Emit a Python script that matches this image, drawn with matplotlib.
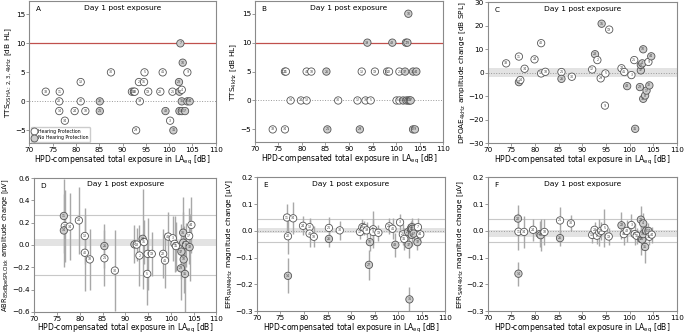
import matplotlib
matplotlib.use("Agg")
import matplotlib.pyplot as plt
from matplotlib.lines import Line2D

# ---------------- data ----------------
xticks = [70, 75, 80, 85, 90, 95, 100, 105, 110]
title_txt = "Day 1 post exposure"
xlabel_txt = "HPD-compensated total exposure in LA$_{\\mathrm{eq}}$ [dB]"

# Panel A: TTS OSHA
xA = [73.5, 76.5, 76.4, 76.4, 77.6, 79.7, 81.0, 81.0, 82.0, 85.1, 85.1, 87.5, 92.0, 92.4, 92.6,
      92.9, 93.5, 93.7, 94.7, 94.6, 95.5, 98.1, 98.6, 99.2, 100.2, 100.7, 100.9, 102.1, 102.4,
      102.2, 102.2, 102.7, 102.9, 102.7, 102.7, 103.4, 103.9, 103.9, 104.4]
yA = [1.67, 1.67, 0, -1.67, -3.33, -1.67, 3.33, 0, -1.67, 0, -1.67, 5, 1.67, 1.67, 1.67,
      -5, 3.33, 0, 5, 3.33, 1.67, 1.67, 5, -1.67, -3.33, 1.67, -5, 3.33, 10,
      1.67, -1.67, 2.0, 6.67, 0, -1.67, -1.67, 5, 0, 0]
idA = [33, 11, 20, 14, 34, 24, 13, 40, 18, 26, 21, 30, 12, 38, 28,
       29, 2, 39, 5, 16, 19, 22, 41, 43, 3, 25, 31, 23, 7,
       37, 36, 4, 10, 35, 8, 17, 9, 32, 44]
nhA = [0, 0, 0, 0, 0, 0, 0, 0, 0, 1, 1, 0, 0, 1, 0,
       0, 0, 0, 0, 0, 0, 0, 0, 1, 0, 0, 1, 1, 1,
       1, 1, 0, 1, 1, 1, 1, 0, 1, 1]

# Panel B: TTS 4 kHz
xB = [102.6, 93.9, 99.2, 102.1, 102.4,
      76.4, 76.6, 81.0, 82.0, 85.2, 92.7, 95.5, 98.1, 98.5, 100.7, 101.9, 103.6, 104.3,
      77.6, 79.8, 81.0, 87.7, 91.8, 93.5, 94.6, 100.1, 100.7, 101.5, 102.2, 102.6, 102.9, 103.1,
      73.8, 76.4, 85.4, 92.3, 103.6, 104.0]
yB = [15, 10, 10, 10, 10,
      5, 5, 5, 5, 5, 5, 5, 5, 5, 5, 5, 5, 5,
      0, 0, 0, 0, 0, 0, 0, 0, 0, 0, 0, 0, 0, 0,
      -5, -5, -5, -5, -5, -5]
idB = [10, 39, 43, 7, 23,
       20, 11, 40, 18, 26, 13, 19, 16, 22, 25, 37, 35, 44,
       14, 24, 13, 30, 12, 38, 5, 3, 41, 31, 36, 4, 8, 17,
       33, 34, 21, 29, 32, 9]
nhB = [1, 1, 1, 1, 1,
       0, 0, 0, 0, 1, 0, 0, 0, 0, 0, 1, 1, 1,
       0, 0, 0, 0, 0, 0, 0, 0, 0, 1, 1, 1, 1, 1,
       0, 0, 1, 1, 1, 1]

# Panel C: DPOAE 4 kHz
xC = [73.9, 76.6, 76.6, 76.9, 77.8, 79.9, 81.3, 81.3, 82.2, 85.6, 85.6, 87.8, 92.1, 92.7, 93.2,
      93.9, 94.1, 94.9, 94.8, 95.7, 98.3, 98.9, 99.5, 100.4, 101.0, 101.2, 102.2, 102.4, 102.4,
      102.7, 102.9, 102.9, 103.3, 103.6, 104.0, 104.2, 104.6]
yC = [4.0, 6.9, -4.0, -3.1, 1.7, 5.7, 12.6, -0.3, 0.4, 0.3, -2.6, -1.7, 1.4, 7.9, 5.4,
      -2.4, 20.9, -0.3, -14.0, 18.4, 1.9, 0.3, -5.7, -1.0, 5.4, -23.9, -6.1, 1.0, 3.3,
      4.0, 10.0, -11.1, -9.7, -7.6, 4.6, -5.4, 7.0]
idC = [33, 11, 20, 14, 34, 24, 40, 13, 18, 21, 26, 30, 12, 28, 2,
       29, 16, 5, 9, 19, 22, 41, 43, 3, 25, 31, 23, 37, 36,
       4, 10, 35, 8, 17, 9, 32, 44]
nhC = [0, 0, 1, 0, 0, 0, 0, 0, 0, 0, 1, 0, 0, 1, 0,
       0, 1, 0, 0, 0, 0, 0, 1, 0, 0, 1, 1, 1, 1,
       1, 1, 1, 1, 1, 0, 1, 1]

# Panel D: ABR amplitude change
xD = [76.5, 76.7, 76.5, 77.8, 79.8, 81.1, 81.1, 82.2, 85.4, 85.4, 87.7, 92.0, 92.5, 93.1, 93.8,
      94.1, 94.8, 94.9, 95.8, 98.3, 98.7, 99.4, 100.4, 100.8, 101.1, 102.2, 102.3, 102.7, 102.7,
      102.8, 103.1, 103.3, 104.0, 104.1, 104.5]
yD = [0.26, 0.17, 0.13, 0.165, 0.22, 0.08, -0.07, -0.13, -0.01, -0.12, -0.23, 0.005, 0.003, -0.095, 0.055,
      0.026, -0.26, -0.08, -0.08, -0.08, -0.14, 0.075, 0.06, 0.01, -0.01, -0.21, -0.06, 0.11, 0.02,
      -0.13, -0.26, 0.0, 0.08, -0.02, 0.18]
eD = [0.33, 0.32, 0.33, 0.3, 0.3, 0.25, 0.34, 0.27, 0.2, 0.25, 0.36, 0.17, 0.15, 0.27, 0.45,
      0.2, 0.28, 0.32, 0.2, 0.22, 0.25, 0.22, 0.2, 0.25, 0.22, 0.28, 0.25, 0.32, 0.28,
      0.3, 0.36, 0.2, 0.25, 0.3, 0.25]
idD = [11, 20, 14, 34, 24, 13, 40, 18, 26, 21, 30, 12, 28, 2, 39,
       16, 5, 9, 19, 22, 41, 43, 3, 25, 31, 23, 37, 36, 4,
       10, 35, 8, 17, 32, 44]
nhD = [1, 0, 1, 0, 0, 0, 0, 0, 1, 0, 0, 1, 0, 0, 1,
       0, 0, 0, 0, 0, 0, 0, 0, 0, 0, 1, 1, 1, 1,
       1, 1, 1, 0, 1, 0]

# Panel E: EFR RAM 4 kHz
xE = [76.4, 76.6, 76.6, 77.7, 79.8, 81.2, 81.2, 82.1, 85.3, 85.3, 87.6, 91.9, 92.4, 92.8, 93.3,
      93.8, 94.0, 94.7, 94.7, 95.8, 98.1, 98.8, 99.4, 100.4, 101.0, 101.3, 102.1, 102.2, 102.4,
      102.7, 102.9, 103.0, 102.9, 103.3, 104.2, 104.1, 104.7]
yE = [0.05, -0.02, -0.168, 0.047, 0.019, 0.014, -0.01, -0.022, 0.011, -0.03, 0.002, -0.004, 0.014, 0.011, 0.002,
      -0.127, -0.042, 0.006, -0.004, -0.007, 0.017, 0.008, -0.052, 0.032, -0.013, -0.03, -0.004, -0.052, -0.256,
      0.008, 0.014, 0.008, -0.015, -0.01, 0.014, -0.042, -0.013]
eE = [0.05, 0.065, 0.065, 0.06, 0.035, 0.035, 0.05, 0.04, 0.04, 0.03, 0.035, 0.025, 0.03, 0.025, 0.03,
      0.055, 0.035, 0.07, 0.05, 0.03, 0.03, 0.04, 0.045, 0.03, 0.04, 0.04, 0.03, 0.05, 0.045,
      0.03, 0.035, 0.03, 0.04, 0.04, 0.035, 0.03, 0.03]
idE = [11, 20, 14, 34, 24, 13, 40, 18, 21, 26, 30, 12, 28, 2, 39,
       27, 16, 5, 9, 19, 22, 41, 43, 3, 25, 31, 23, 37, 36,
       4, 10, 35, 8, 17, 7, 32, 44]
nhE = [0, 0, 1, 0, 0, 0, 0, 0, 0, 1, 0, 0, 0, 0, 0,
       1, 1, 0, 0, 0, 0, 0, 1, 0, 0, 0, 1, 1, 1,
       1, 1, 1, 1, 1, 0, 1, 0]

# Panel F: EFR SAM 4 kHz
xF = [76.4, 76.5, 76.5, 77.7, 79.6, 81.0, 81.2, 82.0, 85.3, 85.3, 87.6, 92.1, 92.6, 93.1, 93.6,
      94.0, 94.7, 95.6, 98.3, 98.8, 99.4, 100.4, 101.1, 101.5, 102.4, 102.5, 102.7, 102.9, 102.9,
      103.3, 103.5, 104.0, 104.2, 104.7]
yF = [0.046, -0.003, -0.16, -0.004, 0.004, -0.012, -0.016, -0.004, 0.039, -0.027, 0.028, -0.015, 0.004, -0.018, -0.006,
      0.0, 0.011, -0.021, 0.021, -0.012, 0.0, 0.022, -0.012, -0.018, 0.042, -0.03, -0.032, 0.028, -0.012,
      -0.06, 0.0, 0.0, -0.022, -0.014]
eF = [0.05, 0.07, 0.045, 0.06, 0.04, 0.05, 0.06, 0.05, 0.05, 0.03, 0.03, 0.03, 0.03, 0.03, 0.05,
      0.035, 0.07, 0.03, 0.05, 0.04, 0.04, 0.04, 0.04, 0.03, 0.05, 0.06, 0.04, 0.04, 0.04,
      0.06, 0.035, 0.03, 0.03, 0.03]
idF = [20, 11, 14, 34, 24, 13, 40, 18, 21, 26, 30, 12, 28, 2, 39,
       16, 5, 19, 22, 41, 43, 3, 25, 31, 23, 37, 36, 4, 10,
       35, 8, 17, 32, 44]
nhF = [1, 0, 1, 0, 0, 0, 1, 0, 0, 1, 0, 0, 0, 0, 0,
       0, 0, 0, 1, 0, 0, 0, 0, 0, 1, 1, 1, 1, 1,
       1, 1, 1, 0, 0]

# ---------------- styling ----------------
EDGE = "#555555"
FILL_HP = "white"
FILL_NHP = "#cdcdcd"
SPINE = "#8a8a8a"
RED = "#c0504d"

plt.rcParams["font.family"] = ["DejaVu Sans"]

fig = plt.figure(figsize=(6.85, 3.36), dpi=100)

boxes = {
    "A": [0.043, 0.574, 0.272, 0.423],
    "B": [0.372, 0.577, 0.275, 0.420],
    "C": [0.712, 0.574, 0.276, 0.419],
    "D": [0.050, 0.072, 0.266, 0.398],
    "E": [0.375, 0.074, 0.275, 0.398],
    "F": [0.712, 0.074, 0.276, 0.398],
}


def base(ax, letter, ylim, yticks, ylabel, ylsize=5.3):
    ax.set_xlim(70, 110)
    ax.set_ylim(*ylim)
    ax.set_xticks(xticks)
    ax.set_yticks(yticks)
    ax.tick_params(labelsize=5.2, length=2.0, width=0.6, color=SPINE, pad=0.8)
    for s in ax.spines.values():
        s.set_color(SPINE)
        s.set_linewidth(0.8)
    ax.set_xlabel(xlabel_txt, fontsize=5.5, labelpad=0.5)
    ax.set_ylabel(ylabel, fontsize=ylsize, labelpad=0.5)
    ax.text(0.035, 0.965, letter, transform=ax.transAxes, fontsize=5.2, va="top", ha="left")
    ax.text(0.5, 0.975, title_txt, transform=ax.transAxes, fontsize=5.4, va="top", ha="center")


def points(ax, x, y, ids, nh, err=None):
    if err is not None:
        ax.errorbar(x, y, yerr=err, fmt="none", ecolor="#a8a8a8", elinewidth=1.0, capsize=0, zorder=2)
    cols = [FILL_NHP if n else FILL_HP for n in nh]
    ax.scatter(x, y, s=28, facecolors=cols, edgecolors=EDGE, linewidths=0.6, zorder=3)
    for xi, yi, i in zip(x, y, ids):
        ax.text(xi, yi, str(i), fontsize=2.3, ha="center", va="center", color="#444444", zorder=4)


# A
axA = fig.add_axes(boxes["A"])
base(axA, "A", (-7.2, 17.3), [-5, 0, 5, 10, 15], "TTS$_{\\mathrm{OSHA:\\,2,\\,3,\\,4kHz}}$ [dB HL]")
axA.axhline(10, color=RED, lw=0.9, zorder=1)
axA.axhline(0, color="#999999", lw=0.7, ls=":", zorder=1)
points(axA, xA, yA, idA, nhA)
h1 = Line2D([], [], marker="o", ls="none", markersize=5, markerfacecolor=FILL_HP, markeredgecolor=EDGE, markeredgewidth=0.6)
h2 = Line2D([], [], marker="o", ls="none", markersize=5, markerfacecolor=FILL_NHP, markeredgecolor=EDGE, markeredgewidth=0.6)
axA.legend([h1, h2], ["Hearing Protection", "No Hearing Protection"], loc="lower left",
           fontsize=3.3, frameon=True, borderpad=0.35, handletextpad=0.4, labelspacing=0.25,
           handlelength=0.8, borderaxespad=0.3, edgecolor="#cccccc", framealpha=1)

# B
axB = fig.add_axes(boxes["B"])
base(axB, "B", (-7.2, 17.2), [-5, 0, 5, 10, 15], "TTS$_{\\mathrm{4kHz}}$ [dB HL]")
axB.axhline(10, color=RED, lw=0.9, zorder=1)
axB.axhline(0, color="#999999", lw=0.7, ls=":", zorder=1)
points(axB, xB, yB, idB, nhB)

# C
axC = fig.add_axes(boxes["C"])
base(axC, "C", (-30, 30), [-30, -20, -10, 0, 10, 20, 30],
     "DPOAE$_{\\mathrm{4kHz}}$ amplitude change [dB SPL]")
axC.axhspan(-2, 2, color="#e3e3e3", zorder=0, lw=0)
axC.axhline(0, color="#999999", lw=0.7, ls=":", zorder=1)
points(axC, xC, yC, idC, nhC)

# D
axD = fig.add_axes(boxes["D"])
base(axD, "D", (-0.6, 0.6), [-0.6, -0.4, -0.2, 0.0, 0.2, 0.4, 0.6],
     "ABR$_{\\mathrm{85dBpeSPL\\,Click}}$ amplitude change [µV]", ylsize=4.9)
axD.axhspan(-0.008, 0.056, color="#e3e3e3", zorder=0, lw=0)
axD.axhline(0.27, color="#c8c8c8", lw=0.8, zorder=1)
axD.axhline(-0.27, color="#c8c8c8", lw=0.8, zorder=1)
points(axD, xD, yD, idD, nhD, eD)

# E
axE = fig.add_axes(boxes["E"])
base(axE, "E", (-0.3, 0.2), [-0.3, -0.2, -0.1, 0.0, 0.1, 0.2],
     "EFR$_{\\mathrm{RAM4kHz}}$ magnitude change [µV]")
axE.axhspan(-0.006, 0.012, color="#e3e3e3", zorder=0, lw=0)
axE.axhline(0, color="#999999", lw=0.7, ls=":", zorder=1)
axE.axhline(0.043, color="#c8c8c8", lw=0.8, zorder=1)
axE.axhline(-0.042, color="#c8c8c8", lw=0.8, zorder=1)
points(axE, xE, yE, idE, nhE, eE)

# F
axF = fig.add_axes(boxes["F"])
base(axF, "F", (-0.3, 0.2), [-0.3, -0.2, -0.1, 0.0, 0.1, 0.2],
     "EFR$_{\\mathrm{SAM4kHz}}$ magnitude change [µV]")
axF.axhspan(-0.022, 0.002, color="#e3e3e3", zorder=0, lw=0)
axF.axhline(0, color="#999999", lw=0.7, ls=":", zorder=1)
axF.axhline(0.043, color="#c8c8c8", lw=0.8, zorder=1)
axF.axhline(-0.043, color="#c8c8c8", lw=0.8, zorder=1)
points(axF, xF, yF, idF, nhF, eF)

fig.savefig("out.png", dpi=100)
